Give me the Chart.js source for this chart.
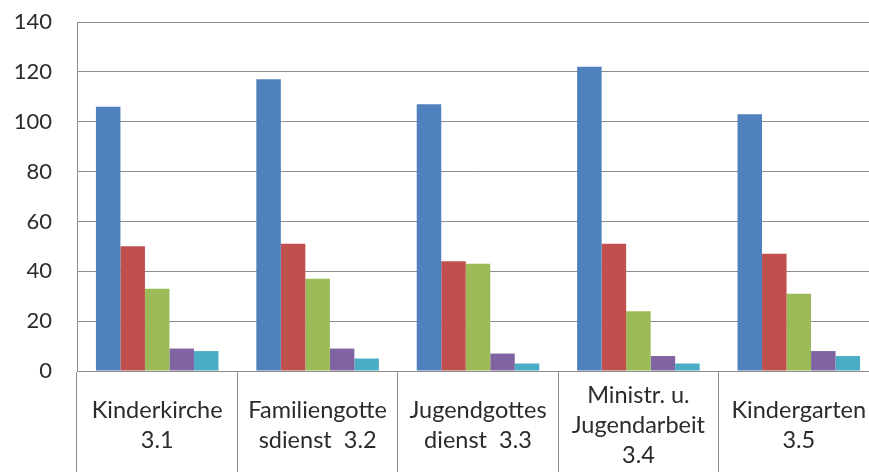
<!DOCTYPE html>
<html>
<head>
<meta charset="utf-8">
<script src="https://cdn.jsdelivr.net/npm/chart.js@4/dist/chart.umd.min.js"></script>
<style>
  html, body { margin: 0; padding: 0; background: #fff; overflow: hidden; }
  #wrap { width: 879px; height: 472px; }
</style>
</head>
<body>
<div id="wrap"><canvas id="c" width="879" height="472"></canvas></div>
<script>
const categories = [
  ['Kinderkirche', '3.1'],
  ['Familiengotte', 'sdienst  3.2'],
  ['Jugendgottes', 'dienst  3.3'],
  ['Ministr. u.', 'Jugendarbeit', '3.4'],
  ['Kindergarten', '3.5']
];
const series1 = [106, 117, 107, 122, 103];
const series2 = [50, 51, 44, 51, 47];
const series3 = [33, 37, 43, 24, 31];
const series4 = [9, 9, 7, 6, 8];
const series5 = [8, 5, 3, 3, 6];
const yTicks = [0, 20, 40, 60, 80, 100, 120, 140];

const colors = ['#4F81BD', '#C0504D', '#9BBB59', '#8064A2', '#4BACC6'];
const allSeries = [series1, series2, series3, series4, series5];
const gridColor = '#8c8c8c';
const textColor = '#2b2b2b';

new Chart(document.getElementById('c'), {
  type: 'bar',
  data: {
    labels: categories,
    datasets: allSeries.map((d, i) => ({
      label: 'Serie ' + (i + 1),
      data: d,
      backgroundColor: colors[i],
      borderWidth: 0,
      categoryPercentage: 0.764,
      barPercentage: 1.0
    }))
  },
  options: {
    responsive: false,
    animation: false,
    devicePixelRatio: 1,
    layout: { padding: { top: 0, right: 0, left: 0, bottom: 0 } },
    plugins: { legend: { display: false }, tooltip: { enabled: false } },
    scales: {
      x: {
        offset: true,
        grid: {
          offset: true,
          drawOnChartArea: false,
          drawTicks: true,
          tickLength: 101,
          color: gridColor,
          lineWidth: 1
        },
        border: { display: true, color: gridColor, width: 1 },
        ticks: {
          autoSkip: false,
          maxRotation: 0,
          minRotation: 0,
          crossAlign: 'center',
          padding: -77,
          color: textColor,
          font: { family: 'Lato', size: 23.5, lineHeight: '30px' }
        },
        afterFit: (s) => { s.height = 101; s.paddingLeft = 0; s.paddingRight = 0; }
      },
      y: {
        min: 0,
        max: 140,
        afterBuildTicks: (s) => { s.ticks = yTicks.map(v => ({ value: v })); },
        grid: {
          color: gridColor,
          lineWidth: 1,
          drawTicks: false
        },
        border: { display: true, color: gridColor, width: 1 },
        ticks: {
          padding: 25,
          color: textColor,
          font: { family: 'Lato', size: 22 }
        },
        afterFit: (s) => { s.width = 77; s.paddingTop = 22; s.paddingBottom = 0; }
      }
    }
  }
});
</script>
</body>
</html>
